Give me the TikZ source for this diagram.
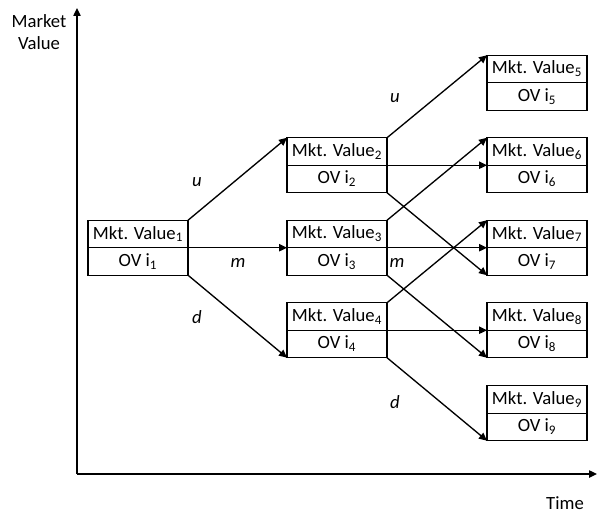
\documentclass[tikz,border=0pt]{standalone}
\usepackage{fontspec}
\setmainfont{Carlito}
\usetikzlibrary{positioning,arrows.meta}
\begin{document}
\begin{tikzpicture}[
                        x = 0.75pt,
                        y = -0.75pt,
                        > = {Triangle[length=6pt,width=5.5pt]},
                        line width = 1pt,
                        font = \fontsize{14}{17}\selectfont
                        ]

                        \tikzstyle{val}=[
                                draw = black,
                                rectangle,
                                outer sep = 0pt,
                                inner sep = 0pt,
                                minimum width = 75pt,
                                minimum height = 20.6pt
                        ]
                        \tikzstyle{move}=[font = \fontsize{14}{17}\selectfont\itshape]

                        \useasboundingbox (0,0) rectangle (598,513);

                        % axes
                        \coordinate (o) at (77,474);
                        \coordinate (ytop) at (77,8);
                        \coordinate (xend) at (597,474);
                        \draw[->] (o) -- (ytop);
                        \draw[->] (o) -- (xend);
                        \node[align=center] (mv) at (39,32) {Market\\Value};
                        \node (time) at (565,503) {Time};

                        % nodes
                        \node[val] (t1) at (138,234) {Mkt. Value\textsubscript{1}};
                        \node[val] (b1) [below=0pt of t1] {OV i\textsubscript{1}};
                        \node[val] (t2) at (337,151.5) {Mkt. Value\textsubscript{2}};
                        \node[val] (b2) [below=0pt of t2] {OV i\textsubscript{2}};
                        \node[val] (t3) at (337,234) {Mkt. Value\textsubscript{3}};
                        \node[val] (b3) [below=0pt of t3] {OV i\textsubscript{3}};
                        \node[val] (t4) at (337,316.5) {Mkt. Value\textsubscript{4}};
                        \node[val] (b4) [below=0pt of t4] {OV i\textsubscript{4}};
                        \node[val] (t5) at (537,69) {Mkt. Value\textsubscript{5}};
                        \node[val] (b5) [below=0pt of t5] {OV i\textsubscript{5}};
                        \node[val] (t6) at (537,151.5) {Mkt. Value\textsubscript{6}};
                        \node[val] (b6) [below=0pt of t6] {OV i\textsubscript{6}};
                        \node[val] (t7) at (537,234) {Mkt. Value\textsubscript{7}};
                        \node[val] (b7) [below=0pt of t7] {OV i\textsubscript{7}};
                        \node[val] (t8) at (537,316.5) {Mkt. Value\textsubscript{8}};
                        \node[val] (b8) [below=0pt of t8] {OV i\textsubscript{8}};
                        \node[val] (t9) at (537,399.5) {Mkt. Value\textsubscript{9}};
                        \node[val] (b9) [below=0pt of t9] {OV i\textsubscript{9}};

                        % moves
                        \draw[->] (t1.north east) -- (t2.north west);
                        \draw[->] (t1.south east) -- (t3.south west);
                        \draw[->] (b1.south east) -- (b4.south west);
                        \draw[->] (t2.north east) -- (t5.north west);
                        \draw[->] (t2.south east) -- (t6.south west);
                        \draw[->] (b2.south east) -- (b7.south west);
                        \draw[->] (t3.north east) -- (t6.north west);
                        \draw[->] (t3.south east) -- (t7.south west);
                        \draw[->] (b3.south east) -- (b8.south west);
                        \draw[->] (t4.north east) -- (t7.north west);
                        \draw[->] (t4.south east) -- (t8.south west);
                        \draw[->] (b4.south east) -- (b9.south west);

                        \node[move] (u1) at (197,182) {u};
                        \node[move] (m1) at (238,263) {m};
                        \node[move] (d1) at (197,317) {d};
                        \node[move] (u2) at (395,98) {u};
                        \node[move] (m2) at (397,263) {m};
                        \node[move] (d2) at (395,402) {d};
                \end{tikzpicture}
\end{document}
